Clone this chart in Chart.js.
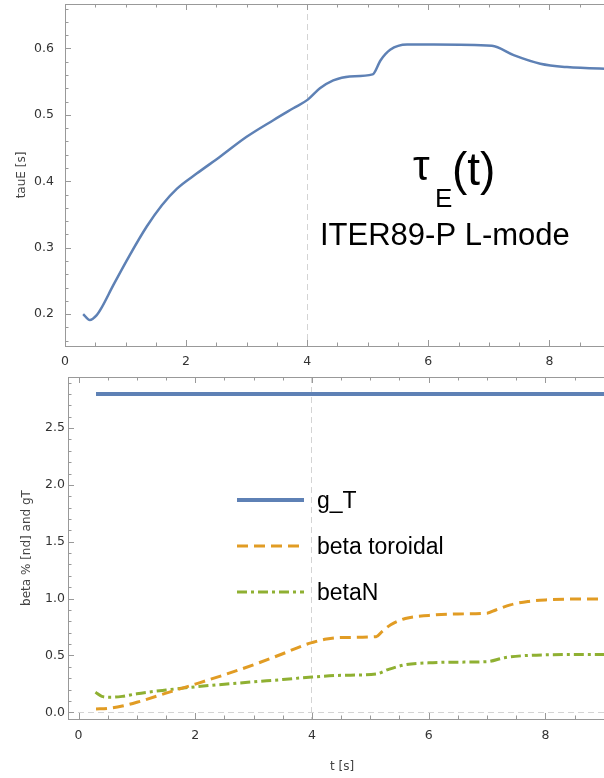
<!DOCTYPE html>
<html>
<head>
<meta charset="utf-8">
<script src="https://cdn.jsdelivr.net/npm/chart.js@4"></script>
<style>
html, body { margin: 0; padding: 0; background: #fff; overflow: hidden; }
#wrap { width: 604px; height: 778px; overflow: hidden; position: relative; }
.box { position: absolute; left: 0; width: 620px; }
</style>
</head>
<body>
<div id="wrap">
  <div class="box" style="top:0;height:370px"><canvas id="tauChart"></canvas></div>
  <div class="box" style="top:370px;height:408px"><canvas id="betaChart"></canvas></div>
</div>
<script>
// top panel: energy confinement time
const tauTime = [0.30, 0.41, 0.52, 0.60, 0.80, 1.07, 1.35, 1.60, 1.85, 2.18, 2.56, 3.00, 3.44, 3.77, 4.01, 4.21, 4.43, 4.70, 5.08, 5.21, 5.37, 5.65, 6.09, 7.05, 7.41, 7.85, 8.29, 9.1];
const tauE = [0.200, 0.191, 0.198, 0.209, 0.244, 0.289, 0.332, 0.364, 0.389, 0.412, 0.437, 0.467, 0.492, 0.510, 0.523, 0.540, 0.552, 0.558, 0.561, 0.582, 0.598, 0.606, 0.606, 0.604, 0.590, 0.577, 0.572, 0.569];

// bottom panel: beta values
const gTTime = [0.3, 9.3];
const gT = [2.8, 2.8];
const btTime = [0.30, 0.5, 0.75, 1.0, 1.5, 2.0, 2.5, 3.0, 3.5, 3.9, 4.0, 4.25, 4.5, 5.1, 5.2, 5.35, 5.6, 6.0, 6.5, 7.0, 7.15, 7.4, 7.7, 8.0, 8.5, 9.3];
const betaTor = [0.029, 0.034, 0.055, 0.088, 0.168, 0.248, 0.330, 0.418, 0.515, 0.597, 0.613, 0.645, 0.658, 0.665, 0.710, 0.770, 0.825, 0.852, 0.865, 0.872, 0.900, 0.945, 0.975, 0.988, 0.996, 0.998];
const bnTime = [0.29, 0.4, 0.55, 0.75, 1.0, 1.5, 2.0, 2.5, 3.0, 3.5, 4.0, 4.5, 5.1, 5.3, 5.6, 6.0, 6.5, 7.0, 7.3, 7.6, 8.0, 9.3];
const betaN = [0.176, 0.140, 0.132, 0.140, 0.163, 0.196, 0.224, 0.247, 0.268, 0.288, 0.310, 0.325, 0.337, 0.375, 0.418, 0.435, 0.441, 0.445, 0.480, 0.497, 0.505, 0.510];

const timeTicks = [0, 2, 4, 6, 8];
const tauTicks = [0.2, 0.3, 0.4, 0.5, 0.6];
const betaTicks = [0, 0.5, 1.0, 1.5, 2.0, 2.5];

const BLUE = '#5e81b5', ORANGE = '#e19c24', GREEN = '#8fb032';
const tickFont = { family: 'DejaVu Sans', size: 12.5 };
const titleFont = { family: 'DejaVu Sans', size: 12 };

function pts(xs, ys) { return xs.map((x, i) => ({ x: x, y: ys[i] })); }

// Mathematica-like frame with inward ticks on every side
const frameTicks = {
  id: 'frameTicks',
  beforeDatasetsDraw(chart, args, o) {
    const ctx = chart.ctx, a = chart.chartArea, xs = chart.scales.x, ys = chart.scales.y;
    ctx.save();
    ctx.strokeStyle = '#999';
    ctx.lineWidth = 1;
    ctx.strokeRect(Math.round(a.left) + 0.5, Math.round(a.top) + 0.5, Math.round(a.width), Math.round(a.height));
    ctx.beginPath();
    for (let v = o.xStart; v <= xs.max + 1e-9; v += o.xMinor) {
      const px = Math.round(xs.getPixelForValue(v)) + 0.5;
      const big = Math.abs(v / o.xMajor - Math.round(v / o.xMajor)) < 1e-6;
      const L = big ? 6 : 3.5;
      ctx.moveTo(px, a.bottom); ctx.lineTo(px, a.bottom - L);
      ctx.moveTo(px, a.top); ctx.lineTo(px, a.top + L);
    }
    for (let v = o.yStart; v <= ys.max + 1e-9; v += o.yMinor) {
      const py = Math.round(ys.getPixelForValue(v)) + 0.5;
      const big = Math.abs(v / o.yMajor - Math.round(v / o.yMajor)) < 1e-6;
      const L = big ? 6 : 3.5;
      ctx.moveTo(a.left, py); ctx.lineTo(a.left + L, py);
      ctx.moveTo(a.right, py); ctx.lineTo(a.right - L, py);
    }
    ctx.stroke();
    ctx.restore();
  }
};

// big label on the tau panel
const tauLabel = {
  id: 'tauLabel',
  afterDraw(chart) {
    const ctx = chart.ctx;
    ctx.save();
    ctx.fillStyle = '#000';
    ctx.textBaseline = 'alphabetic';
    ctx.font = '42px "Liberation Sans", Arial, sans-serif';
    ctx.fillText('τ', 413, 180);
    ctx.font = '26px "Liberation Sans", Arial, sans-serif';
    ctx.fillText('E', 435, 207);
    ctx.font = '46px "Liberation Sans", Arial, sans-serif';
    ctx.fillText('(t)', 452, 185);
    ctx.font = '31px "Liberation Sans", Arial, sans-serif';
    ctx.fillText('ITER89-P L-mode', 320, 245);
    ctx.restore();
  }
};

// legend placed inside the beta panel
const innerLegend = {
  id: 'innerLegend',
  afterDraw(chart, args, o) {
    const ctx = chart.ctx;
    ctx.save();
    chart.data.datasets.forEach((ds, i) => {
      const y = o.y + i * o.gap;
      ctx.strokeStyle = ds.borderColor;
      ctx.lineWidth = ds.borderWidth;
      ctx.setLineDash(ds.borderDash || []);
      ctx.beginPath();
      ctx.moveTo(o.x, y); ctx.lineTo(o.x + o.len, y);
      ctx.stroke();
      ctx.setLineDash([]);
      ctx.fillStyle = '#000';
      ctx.font = '23px "Liberation Sans", Arial, sans-serif';
      ctx.textBaseline = 'alphabetic';
      ctx.fillText(ds.label, o.x + o.len + 13, y + 8);
    });
    ctx.restore();
  }
};

function xGrid(c) { return c.tick && c.tick.value === 4 ? '#d4d4d4' : 'rgba(0,0,0,0)'; }
function yZeroGrid(c) { return c.tick && c.tick.value === 0 ? '#d4d4d4' : 'rgba(0,0,0,0)'; }

new Chart(document.getElementById('tauChart'), {
  type: 'line',
  data: {
    datasets: [{
      label: 'tauE',
      data: pts(tauTime, tauE),
      borderColor: BLUE,
      borderWidth: 2.5,
      pointRadius: 0,
      cubicInterpolationMode: 'monotone'
    }]
  },
  options: {
    responsive: true,
    maintainAspectRatio: false,
    animation: false,
    layout: { padding: { top: 4, right: 4, left: 0, bottom: 0 } },
    plugins: {
      legend: { display: false },
      tooltip: { enabled: false },
      frameTicks: { xStart: 0, xMinor: 0.5, xMajor: 2, yStart: 0.16, yMinor: 0.02, yMajor: 0.1 }
    },
    scales: {
      x: {
        type: 'linear', min: 0, max: 9.1,
        afterBuildTicks: s => { s.ticks = timeTicks.map(v => ({ value: v })); },
        afterFit: s => { s.height = 24; },
        ticks: { padding: 8, color: '#333', font: tickFont, maxRotation: 0 },
        grid: { drawTicks: false, color: xGrid, lineWidth: 1 },
        border: { display: false, dash: [6, 4] }
      },
      y: {
        min: 0.152, max: 0.667,
        afterBuildTicks: s => { s.ticks = tauTicks.map(v => ({ value: v })); },
        afterFit: s => { s.width = 65; s.paddingTop = 0; s.paddingBottom = 0; },
        ticks: { padding: 3, color: '#333', font: tickFont, callback: v => v.toFixed(1) },
        grid: { display: false },
        border: { display: false },
        title: { display: true, text: 'tauE [s]', color: '#444', font: titleFont, padding: { top: 15, bottom: 0 } }
      }
    }
  },
  plugins: [frameTicks, tauLabel]
});

new Chart(document.getElementById('betaChart'), {
  type: 'line',
  data: {
    datasets: [
      { label: 'g_T', data: pts(gTTime, gT), borderColor: BLUE, borderWidth: 4, pointRadius: 0 },
      { label: 'beta toroidal', data: pts(btTime, betaTor), borderColor: ORANGE, borderWidth: 3, borderDash: [11, 6], pointRadius: 0, cubicInterpolationMode: 'monotone' },
      { label: 'betaN', data: pts(bnTime, betaN), borderColor: GREEN, borderWidth: 3, borderDash: [10, 4, 3, 4], pointRadius: 0, cubicInterpolationMode: 'monotone' }
    ]
  },
  options: {
    responsive: true,
    maintainAspectRatio: false,
    animation: false,
    layout: { padding: { top: 7, right: 4, left: 0, bottom: 0 } },
    plugins: {
      legend: { display: false },
      tooltip: { enabled: false },
      frameTicks: { xStart: 0, xMinor: 0.5, xMajor: 2, yStart: 0, yMinor: 0.1, yMajor: 0.5 },
      innerLegend: { x: 237, y: 130, gap: 46, len: 67 }
    },
    scales: {
      x: {
        type: 'linear', min: -0.18, max: 9.21,
        afterBuildTicks: s => { s.ticks = timeTicks.map(v => ({ value: v })); },
        afterFit: s => { s.height = 59; },
        ticks: { padding: 9, color: '#333', font: tickFont, maxRotation: 0 },
        grid: { drawTicks: false, color: xGrid, lineWidth: 1 },
        border: { display: false, dash: [6, 4] },
        title: { display: true, text: 't [s]', color: '#444', font: titleFont, padding: { top: 0, bottom: 4 } }
      },
      y: {
        min: -0.059, max: 2.949,
        afterBuildTicks: s => { s.ticks = betaTicks.map(v => ({ value: v })); },
        afterFit: s => { s.width = 68; s.paddingTop = 0; s.paddingBottom = 0; },
        ticks: { padding: 3, color: '#333', font: tickFont, callback: v => v.toFixed(1) },
        grid: { drawTicks: false, color: yZeroGrid, lineWidth: 1 },
        border: { display: false, dash: [6, 4] },
        title: { display: true, text: 'beta % [nd] and gT', color: '#444', font: titleFont, padding: { top: 20, bottom: 0 } }
      }
    }
  },
  plugins: [frameTicks, innerLegend]
});
</script>
</body>
</html>
